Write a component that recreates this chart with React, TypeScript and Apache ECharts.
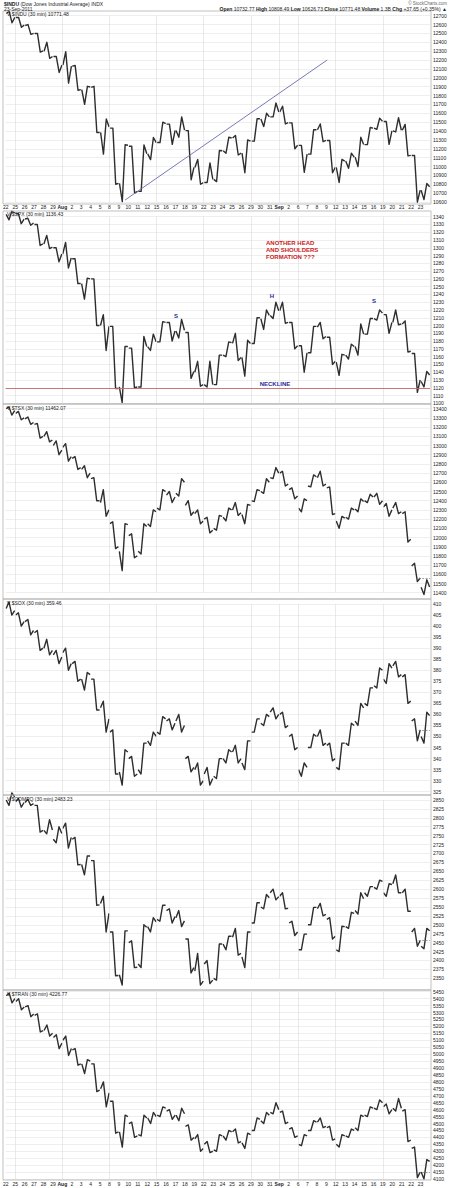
import React, { useEffect, useRef } from "react";
import * as echarts from "echarts";

const dayLabels = ["22","25","26","27","28","29","Aug","2","3","4","5","8","9","10","11","12","15","16","17","18","19","22","23","24","25","26","29","30","31","Sep","2","6","7","8","9","12","13","14","15","16","19","20","21","22","23"];
const weekLines = [1, 6, 11, 16, 21, 26, 29, 31, 35, 40];

// daily [open, high, low, close]
const indu = [
[12724,12750,12620,12681],[12680,12680,12570,12593],[12590,12600,12490,12501],[12500,12500,12290,12303],[12300,12400,12220,12240],
[12240,12240,12060,12143],[12144,12295,11940,12132],[12130,12140,11860,11867],[11866,11904,11700,11896],[11893,11904,11383,11384],
[11385,11535,11140,11445],[11433,11433,10800,10810],[10810,11245,10604,11240],[11228,11228,10700,10720],[10720,11244,10720,11143],
[11143,11327,11078,11269],[11270,11500,11270,11483],[11478,11478,11250,11406],[11406,11560,11330,11410],[11405,11405,10850,10991],
[10989,11080,10800,10818],[10820,11040,10820,10855],[10855,11180,10830,11177],[11177,11330,11150,11321],[11321,11350,11130,11150],
[11150,11300,10930,11285],[11286,11540,11286,11539],[11536,11600,11450,11560],[11560,11716,11560,11614],[11614,11680,11480,11494],
[11492,11492,11200,11240],[11238,11238,10935,11139],[11140,11415,11140,11415],[11414,11480,11280,11296],[11294,11294,10930,10992],
[10990,11080,10820,11061],[11062,11150,10980,11106],[11106,11330,11000,11247],[11247,11440,11247,11433],[11433,11544,11420,11509],
[11508,11508,11250,11401],[11401,11550,11390,11409],[11408,11475,11120,11125],[11124,11124,10600,10734],[10733,10808,10627,10771.48]
];
const spx = [
[1343,1347,1336,1345],[1344,1344,1331,1337],[1337,1338,1329,1332],[1330,1330,1303,1305],[1305,1316,1299,1301],
[1300,1300,1282,1292],[1292,1307,1274,1287],[1286,1286,1254,1254],[1254,1261,1234,1260],[1260,1260,1200,1200],
[1200,1214,1168,1199],[1199,1199,1119,1119],[1121,1173,1101,1173],[1171,1171,1120,1121],[1121,1186,1121,1173],
[1173,1189,1168,1179],[1179,1205,1179,1204],[1204,1204,1180,1193],[1193,1208,1184,1194],[1191,1191,1132,1141],
[1140,1154,1122,1124],[1124,1154,1121,1124],[1124,1162,1124,1162],[1162,1179,1160,1178],[1177,1190,1155,1159],
[1159,1181,1135,1177],[1177,1210,1177,1210],[1209,1220,1195,1213],[1213,1230,1209,1219],[1219,1230,1203,1204],
[1204,1204,1170,1174],[1174,1174,1140,1165],[1165,1199,1165,1199],[1198,1204,1183,1186],[1185,1185,1150,1154],
[1153,1163,1136,1162],[1162,1176,1157,1173],[1173,1202,1162,1189],[1189,1209,1189,1209],[1209,1220,1207,1216],
[1214,1214,1190,1204],[1204,1220,1201,1202],[1202,1206,1166,1167],[1164,1164,1114,1130],[1128,1141,1121,1136.43]
];
const tsx = [
[13400,13420,13330,13380],[13350,13370,13280,13300],[13290,13310,13230,13250],[13230,13240,13080,13100],[13100,13150,13040,13060],
[13000,13050,12900,12950],[12980,13020,12830,12880],[12860,12880,12740,12760],[12740,12780,12650,12700],[12640,12650,12400,12400],
[12380,12520,12230,12300],[12150,12170,11880,11900],[11850,12150,11640,12140],[12020,12040,11780,11800],[11850,12150,11820,12120],
[12150,12300,12120,12280],[12320,12520,12300,12500],[12460,12500,12380,12440],[12480,12640,12450,12600],[12350,12400,12240,12280],
[12260,12300,12150,12180],[12200,12220,12050,12080],[12100,12240,12080,12230],[12220,12320,12180,12300],[12300,12380,12240,12270],
[12250,12360,12150,12350],[12400,12520,12390,12510],[12500,12640,12480,12600],[12650,12760,12640,12700],[12700,12720,12560,12580],
[12520,12540,12420,12450],[12320,12420,12280,12400],[12560,12680,12550,12660],[12650,12720,12560,12580],[12540,12550,12250,12260],
[12180,12230,12100,12210],[12220,12320,12200,12300],[12310,12420,12280,12390],[12400,12470,12380,12440],[12440,12480,12360,12400],
[12330,12370,12230,12300],[12320,12380,12260,12280],[12260,12280,11950,11980],[11690,11720,11520,11560],[11460,11540,11380,11462.07]
];
const sox = [
[408,411,405,407],[405,406,400,402],[402,403,396,398],[397,398,389,390],[390,394,387,389],
[387,389,383,386],[388,390,380,383],[383,384,375,376],[376,379,371,378],[376,376,362,362],
[363,366,352,358],[352,353,333,333],[334,344,328,343],[340,341,332,333],[335,347,333,347],
[348,352,346,350],[352,359,351,358],[357,358,353,356],[357,360,352,355],[340,341,334,336],
[335,338,328,330],[333,336,328,331],[332,340,331,340],[340,344,338,343],[343,346,338,340],
[338,348,335,348],[352,358,352,358],[356,360,355,359],[361,363,358,360],[360,361,354,355],
[350,351,344,345],[335,338,332,336],[345,351,345,350],[350,353,346,347],[346,347,339,340],
[336,347,335,347],[347,356,346,355],[357,365,355,363],[365,372,364,372],[373,381,372,380],
[376,383,374,381],[382,384,377,378],[377,378,365,366],[357,358,348,353],[350,361,347,359.46]
];
const compq = [
[2850,2870,2835,2859],[2845,2855,2830,2843],[2843,2852,2835,2840],[2835,2835,2760,2765],[2765,2795,2755,2766],
[2740,2775,2730,2756],[2770,2785,2715,2745],[2740,2745,2668,2669],[2669,2693,2640,2693],[2680,2680,2555,2556],
[2560,2580,2480,2532],[2480,2480,2357,2358],[2360,2483,2331,2483],[2450,2455,2380,2381],[2390,2500,2380,2493],
[2495,2520,2480,2508],[2515,2555,2510,2555],[2540,2545,2505,2523],[2520,2540,2495,2511],[2460,2460,2365,2380],
[2370,2420,2331,2342],[2390,2400,2335,2345],[2350,2446,2345,2446],[2446,2468,2430,2468],[2465,2490,2415,2420],
[2410,2480,2380,2480],[2505,2562,2505,2562],[2550,2585,2545,2576],[2590,2600,2570,2579],[2580,2590,2545,2546],
[2505,2510,2470,2480],[2430,2474,2430,2474],[2500,2549,2500,2549],[2545,2560,2525,2529],[2515,2520,2460,2468],
[2430,2496,2425,2495],[2495,2535,2490,2532],[2540,2590,2530,2573],[2590,2607,2580,2607],[2605,2625,2600,2622],
[2590,2615,2580,2613],[2615,2640,2590,2590],[2590,2600,2538,2538],[2480,2490,2440,2456],[2440,2490,2433,2483.23]
];
const tran = [
[5420,5440,5370,5400],[5380,5400,5320,5340],[5340,5350,5270,5290],[5280,5290,5160,5170],[5170,5210,5130,5150],
[5120,5140,5040,5080],[5100,5130,4990,5040],[5030,5040,4920,4930],[4930,4960,4860,4950],[4930,4930,4730,4740],
[4750,4800,4620,4720],[4660,4660,4430,4440],[4440,4560,4330,4550],[4500,4510,4400,4410],[4420,4560,4410,4540],
[4540,4580,4500,4550],[4560,4620,4550,4610],[4590,4600,4530,4560],[4560,4610,4520,4570],[4480,4490,4380,4400],
[4390,4420,4300,4320],[4350,4370,4290,4300],[4310,4420,4300,4410],[4410,4450,4380,4440],[4440,4460,4360,4370],
[4360,4430,4320,4420],[4450,4540,4450,4530],[4520,4580,4500,4560],[4580,4650,4570,4600],[4580,4590,4500,4510],
[4460,4470,4400,4410],[4350,4420,4340,4410],[4450,4520,4450,4510],[4510,4540,4470,4480],[4470,4480,4380,4390],
[4350,4420,4330,4410],[4410,4460,4400,4450],[4470,4560,4450,4550],[4560,4620,4550,4610],[4610,4670,4600,4650],
[4620,4640,4570,4600],[4610,4680,4590,4610],[4590,4600,4370,4380],[4320,4330,4110,4150],[4150,4240,4100,4226.77]
];

const panelTitles = ["V $INDU (30 min) 10771.48","V $SPX (30 min) 1136.43","V $TSX (30 min) 11462.07","V $SOX (30 min) 359.46","V $COMPQ (30 min) 2483.23","V $TRAN (30 min) 4226.77"];
const panelRows = [indu, spx, tsx, sox, compq, tran];
const axisMin = [10600, 1100, 11400, 325, 2350, 4100];
const axisMax = [12700, 1340, 13400, 410, 2850, 5450];
const axisStep = [100, 10, 100, 5, 25, 50];
const showPrevClose = [false, false, true, true, true, true];

// layout (pixels)
const FONT = "Liberation Sans, Arial, sans-serif";
const PLOT_L = 5.6;
const PLOT_R = 430;
const FRAME_L = 3;
const FRAME_R = 431;
const layout = [
  { yTop: 15.7, yBot: 202, fTop: 11, fBot: 204, titleY: 13.5 },
  { yTop: 216.7, yBot: 403.3, fTop: 211, fBot: 404, titleY: 213.5 },
  { yTop: 408.7, yBot: 592.7, fTop: 404, fBot: 599, titleY: 408 },
  { yTop: 604, yBot: 791.7, fTop: 599, fBot: 795, titleY: 602.5 },
  { yTop: 800, yBot: 978.3, fTop: 795, fBot: 990, titleY: 798.5 },
  { yTop: 991.7, yBot: 1179, fTop: 990, fBot: 1180, titleY: 993.5 },
];

function buildOption() {
  const grid: any[] = [];
  const xAxis: any[] = [];
  const yAxis: any[] = [];
  const series: any[] = [];
  const graphic: any[] = [];

  panelRows.forEach((rows, i) => {
    const L = layout[i];
    grid.push({ left: PLOT_L, top: L.yTop, width: PLOT_R - PLOT_L, height: L.yBot - L.yTop });
    const showX = i === 0 || i === 5;
    xAxis.push({
      type: "value", gridIndex: i, min: 0, max: 45, interval: 1,
      axisLine: { show: false }, axisTick: { show: false }, splitLine: { show: false },
      axisLabel: {
        show: showX, fontSize: 5, margin: i === 0 ? 2.5 : 2, color: "#222", fontFamily: FONT,
        formatter: (v: number) => {
          const s = dayLabels[v];
          if (s === undefined) return "";
          return s === "Aug" || s === "Sep" ? `{b|${s}}` : s;
        },
        rich: { b: { fontWeight: "bold", fontSize: 5, fontFamily: FONT, color: "#222" } },
      },
    });
    yAxis.push({
      type: "value", gridIndex: i, position: "right",
      min: axisMin[i], max: axisMax[i], interval: axisStep[i],
      axisLine: { show: false }, axisTick: { show: false },
      axisLabel: { fontSize: 5, margin: 3, color: "#222", fontFamily: FONT, formatter: (v: number) => String(v) },
      splitLine: { lineStyle: { color: "#e3e3e3", width: 0.6 } },
    });
    // vertical weekly grid lines
    series.push({
      type: "line", xAxisIndex: i, yAxisIndex: i, data: [], z: 1, silent: true,
      markLine: {
        silent: true, symbol: "none", animation: false, label: { show: false },
        lineStyle: { color: "#dcdcdc", width: 0.6, type: "solid" },
        data: weekLines.map((x) => ({ xAxis: x })),
      },
    });
    // price trace
    series.push({
      type: "custom", xAxisIndex: i, yAxisIndex: i, z: 3, silent: true,
      data: rows.map((r, d) => [d, r[0], r[1], r[2], r[3]]),
      encode: { x: 0, y: [1, 2, 3, 4] },
      renderItem: (params: any, api: any) => {
        const d = api.value(0);
        const o = api.value(1), h = api.value(2), l = api.value(3), c = api.value(4);
        const seq = c >= o ? [o, l, h, c] : [o, h, l, c];
        const fr = [0.06, 0.36, 0.66, 0.96];
        const pts = seq.map((v: number, k: number) => api.coord([d + fr[k], v]));
        return {
          type: "polyline",
          shape: { points: pts },
          style: { stroke: "#2e2e2e", lineWidth: 1.4, fill: null, lineJoin: "round" },
        };
      },
    });
    if (showPrevClose[i]) {
      const pc = rows[rows.length - 2][3];
      series.push({
        type: "line", xAxisIndex: i, yAxisIndex: i, data: [], z: 4, silent: true,
        markLine: {
          silent: true, symbol: "none", animation: false, label: { show: false },
          lineStyle: { color: "#777", width: 0.7, type: [2, 1.5] },
          data: [[{ coord: [rows.length - 1.2, pc] }, { coord: [rows.length, pc] }]],
        },
      });
    }
    graphic.push({
      type: "rect", silent: true, z: 5,
      shape: { x: FRAME_L, y: L.fTop, width: FRAME_R - FRAME_L, height: L.fBot - L.fTop },
      style: { fill: "none", stroke: "#a8a8a8", lineWidth: 0.7 },
    });
    graphic.push(text(7, L.titleY, panelTitles[i], 5, "#222", "normal"));
  });

  // Annotations: INDU trendline, SPX neckline
  series.push({
    type: "line", xAxisIndex: 0, yAxisIndex: 0, data: [], z: 6, silent: true,
    markLine: {
      silent: true, symbol: "none", animation: false, label: { show: false },
      lineStyle: { color: "#6a6ab0", width: 0.9, type: "solid" },
      data: [[{ coord: [12.65, 10622] }, { coord: [34.1, 12201] }]],
    },
  });
  series.push({
    type: "line", xAxisIndex: 1, yAxisIndex: 1, data: [], z: 6, silent: true,
    markLine: {
      silent: true, symbol: "none", animation: false, label: { show: false },
      lineStyle: { color: "#c46a6a", width: 0.9, type: "solid" },
      data: [{ yAxis: 1120 }],
    },
  });

  // header
  graphic.push({
    type: "text", z: 10, silent: true, x: 4, y: 3.5,
    style: {
      text: "{b|$INDU} (Dow Jones Industrial Average) INDX",
      fontSize: 5, fontFamily: FONT, fill: "#222", verticalAlign: "middle", textVerticalAlign: "middle",
      rich: { b: { fontWeight: "bold", fontSize: 5, fontFamily: FONT, fill: "#222" } },
    },
  });
  graphic.push(text(4, 9, "23-Sep-2011", 5, "#222", "normal"));
  graphic.push({
    type: "text", z: 10, silent: true, x: 447, y: 3.5,
    style: { text: "© StockCharts.com", fontSize: 4.5, fontFamily: FONT, fill: "#666", align: "right", textAlign: "right", verticalAlign: "middle", textVerticalAlign: "middle" },
  });
  graphic.push({
    type: "text", z: 10, silent: true, x: 447, y: 9,
    style: {
      text: "{b|Open} 10732.77 {b|High} 10808.49 {b|Low} 10626.73 {b|Close} 10771.48 {b|Volume} 1.3B {b|Chg} +37.65 (+0.35%) ▲",
      fontSize: 5, fontFamily: FONT, fill: "#222", align: "right", textAlign: "right", verticalAlign: "middle", textVerticalAlign: "middle",
      rich: { b: { fontWeight: "bold", fontSize: 5, fontFamily: FONT, fill: "#222" } },
    },
  });

  // SPX annotations
  const RED = "#cc2020";
  const BLUE = "#2a2a9c";
  graphic.push({
    type: "text", z: 10, silent: true, x: 266, y: 239,
    style: { text: "ANOTHER HEAD\nAND SHOULDERS\nFORMATION ???", fontSize: 6, lineHeight: 7, fontWeight: "bold", fontFamily: FONT, fill: RED, verticalAlign: "top", textVerticalAlign: "top" },
  });
  graphic.push(text(275, 384, "NECKLINE", 6, BLUE, "bold", "center"));
  graphic.push(text(176, 316, "S", 6, BLUE, "bold", "center"));
  graphic.push(text(272, 295.5, "H", 6, BLUE, "bold", "center"));
  graphic.push(text(374, 301, "S", 6, BLUE, "bold", "center"));

  return { animation: false, backgroundColor: "#ffffff", grid, xAxis, yAxis, series, graphic };
}

function text(x: number, y: number, s: string, size: number, color: string, weight: string, align = "left") {
  return {
    type: "text", z: 10, silent: true, x, y,
    style: { text: s, fontSize: size, fontFamily: FONT, fill: color, fontWeight: weight, align, textAlign: align, verticalAlign: "middle", textVerticalAlign: "middle" },
  };
}

export default function App() {
  const ref = useRef<HTMLDivElement>(null);
  useEffect(() => {
    document.body.style.margin = "0";
    const chart = echarts.init(ref.current!, null, { renderer: "svg" });
    chart.setOption(buildOption() as any);
    return () => chart.dispose();
  }, []);
  return <div ref={ref} style={{ width: 450, height: 1188 }} />;
}
